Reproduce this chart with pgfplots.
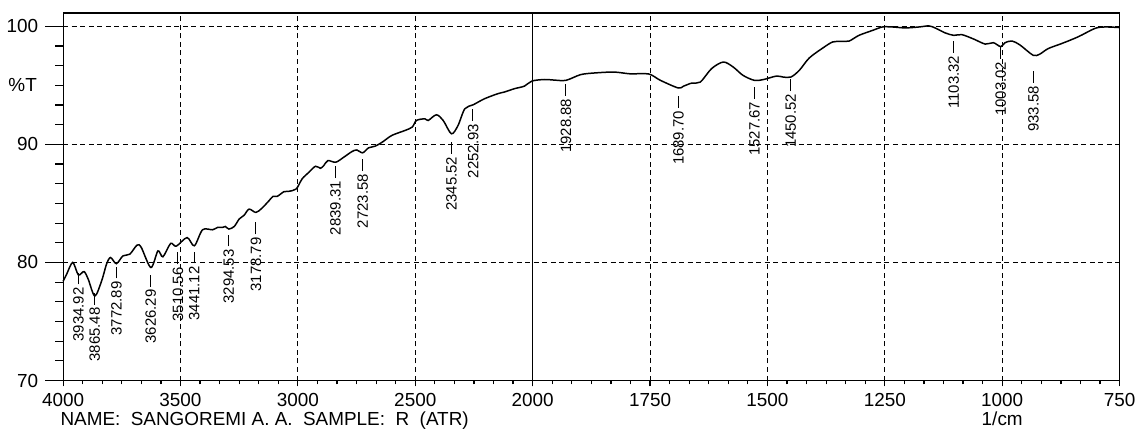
\documentclass[border=0pt]{standalone}
\usepackage{fontspec}
\setmainfont{Liberation Sans}
\usepackage{pgfplots}
\pgfplotsset{compat=1.18}

% peak label: number with a short dash pointing up to the band
\newcommand{\pk}[3]{\node[rotate=90,anchor=east,inner sep=0pt,font=\fontsize{7.5}{8}\selectfont] at (axis cs:#1,#2) {#3\hspace{1.5pt}\rule[0.33em]{6pt}{0.5pt}};}

\begin{document}
\begin{tikzpicture}
\begin{axis}[
    at={(0,0)}, anchor=south west,
    scale only axis, width=531pt, height=184.75pt,
    % the spectrum is drawn at twice the scale below 2000 1/cm
    x coord trafo/.code={\pgfmathparse{#1>=2000 ? (4000-#1)/500 : 4+(2000-#1)/250}},
    xmin=4000, xmax=750, ymin=70, ymax=101.14,
    xtick={4000,3500,3000,2500,2000,1750,1500,1250,1000,750},
    xticklabels={4000,3500,3000,2500,2000,1750,1500,1250,1000,750},
    ytick={70,80,90,100},
    minor x tick num=5, minor y tick num=5,
    tick align=outside,
    major tick length=9pt, minor tick length=4pt,
    tick style={black, line width=0.6pt},
    xtick style={/pgfplots/major tick length=3pt, /pgfplots/minor tick length=2pt},
    xtick pos=bottom, ytick pos=left,
    axis line style={line width=0.6pt},
    ticklabel style={font=\fontsize{9.5}{10}\selectfont},
    xticklabel style={yshift=6pt},
    /pgf/number format/assume math mode=true,
    extra x ticks={2000}, extra x tick labels={},
    extra x tick style={grid=major, major grid style={solid, line width=0.6pt}},
    grid=major,
    major grid style={black, line width=0.5pt, dash pattern=on 2.5pt off 1.8pt},
    clip=false,
]
\addplot[black, line width=0.75pt, smooth, tension=0.5] table {
wn T
4000 78.40
3985 79.00
3959 80.00
3935 78.95
3911 79.23
3893 78.58
3865 77.16
3836 78.43
3815 79.86
3798 80.42
3773 79.90
3745 80.56
3716 80.70
3685 81.47
3667 81.27
3626 79.57
3596 80.98
3575 80.48
3542 81.61
3518 81.38
3472 82.11
3441 81.41
3406 82.77
3363 82.77
3342 82.97
3321 82.97
3309 83.05
3294 82.83
3271 83.05
3250 83.68
3229 84.00
3208 84.52
3179 84.24
3154 84.58
3123 85.23
3106 85.60
3088 85.60
3059 86.00
3038 86.03
3007 86.23
2982 87.08
2953 87.64
2925 88.15
2904 87.98
2890 88.20
2872 88.63
2839 88.49
2805 88.91
2770 89.39
2749 89.53
2724 89.29
2699 89.71
2671 89.85
2640 90.20
2600 90.76
2544 91.18
2513 91.47
2495 92.03
2459 92.17
2445 92.03
2410 92.51
2381 92.03
2346 90.90
2318 91.60
2289 93.02
2253 93.36
2205 93.87
2148 94.30
2120 94.44
2078 94.72
2035 94.94
2003 95.37
1975 95.50
1954 95.45
1929 95.43
1898 95.91
1869 96.05
1827 96.13
1792 95.98
1753 95.97
1728 95.43
1690 94.78
1679 94.93
1661 95.20
1643 95.28
1619 96.42
1594 96.98
1573 96.56
1552 95.85
1528 95.43
1509 95.49
1481 95.79
1467 95.71
1450 95.71
1432 96.28
1411 97.32
1382 98.17
1361 98.68
1343 98.73
1326 98.76
1305 99.24
1276 99.66
1255 99.95
1234 99.95
1206 99.87
1177 99.95
1156 100.04
1142 99.85
1121 99.44
1103 99.24
1086 99.30
1061 98.93
1036 98.50
1019 98.62
1003 98.28
994 98.62
979 98.76
962 98.42
934 97.55
920 97.65
902 98.12
873 98.55
838 99.12
803 99.82
782 99.95
750 99.90
};
\pk{3934.92}{79.18}{3934.92}
\pk{3865.48}{77.48}{3865.48}
\pk{3772.89}{79.69}{3772.89}
\pk{3626.29}{79.00}{3626.29}
\pk{3510.56}{80.88}{3510.56}
\pk{3441.12}{80.96}{3441.12}
\pk{3294.53}{82.40}{3294.53}
\pk{3178.79}{83.42}{3178.79}
\pk{2839.31}{88.18}{2839.31}
\pk{2723.58}{88.78}{2723.58}
\pk{2345.52}{90.25}{2345.52}
\pk{2252.93}{93.02}{2252.93}
\pk{1928.88}{95.15}{1928.88}
\pk{1689.70}{94.13}{1689.70}
\pk{1527.67}{94.90}{1527.67}
\pk{1450.52}{95.57}{1450.52}
\pk{1103.32}{98.80}{1103.32}
\pk{1003.02}{98.30}{1003.02}
\pk{933.58}{96.25}{933.58}
\node[anchor=east, inner sep=0pt, font=\fontsize{9.5}{10}\selectfont]
  at (axis cs:4000,95) [xshift=-13pt] {\%T};
\node[anchor=base west, inner sep=0pt, font=\fontsize{9.5}{10}\selectfont]
  at (rel axis cs:0,0) [xshift=-1.5pt, yshift=-22.5pt] {NAME:\ \ SANGOREMI A. A.\ \ SAMPLE:\ \ R\ \ (ATR)};
\node[anchor=base, inner sep=0pt, font=\fontsize{9.5}{10}\selectfont]
  at (axis cs:1000,70) [yshift=-22.5pt] {1/cm};
\end{axis}
\path (-31.5pt,-24.5pt) rectangle (539.5pt,191.25pt);
\end{tikzpicture}
\end{document}
